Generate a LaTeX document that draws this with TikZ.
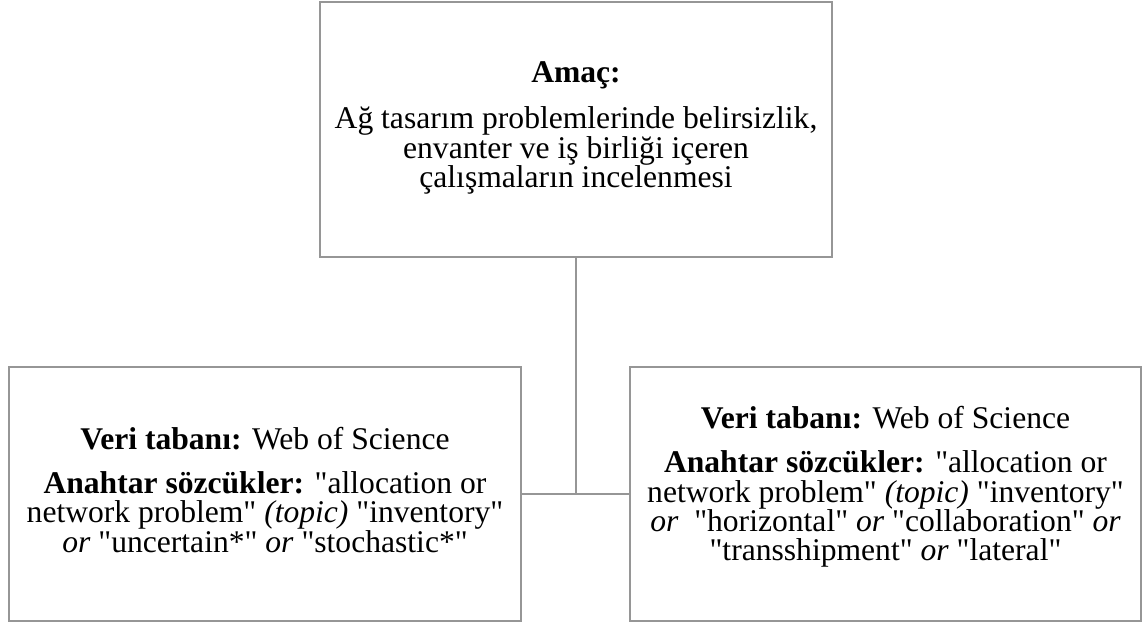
\documentclass[tikz,border=0pt]{standalone}
\usepackage{fontspec}
\setmainfont{Liberation Serif}[Ligatures=TeXOff]
\usetikzlibrary{positioning}

\definecolor{boxgray}{RGB}{150,150,150}

\tikzset{
  kutu/.style={draw=boxgray,line width=1pt,minimum width=256pt,minimum height=127pt,inner sep=0pt},
  yazi/.style={align=center,font=\fontsize{15.8}{14.6}\selectfont,inner sep=0pt},
  hat/.style={draw=boxgray,line width=1pt}
}

\begin{document}
\begin{tikzpicture}[x=0.5pt,y=-0.5pt]
  \useasboundingbox (0,0) rectangle (1144,623);
  % kutular
  \node[kutu,minimum height=127.5pt] (amac) at (576,129.5) {};
  \node[kutu] (sol) at (265,494) {};
  \node[kutu,minimum width=255.5pt] (sag) at (885.5,494) {};
  % baglantilar
  \draw[hat] (amac.south) -- (amac.south |- sol.east);
  \draw[hat] (sol.east) -- (sag.west);
  % metinler
  \node[yazi] (amacyazi) at (576,128)
    {\textbf{Amaç:}\\[8.4pt]
     Ağ tasarım problemlerinde belirsizlik,\\
     envanter ve iş birliği içeren\\
     çalışmaların incelenmesi};
  \node[yazi] (solyazi) at (265,490)
    {\textbf{Veri tabanı:} Web of Science\\[7.4pt]
     \textbf{Anahtar sözcükler:} "allocation or\\
     network problem" \textit{(topic)} "inventory"\\
     \textit{or} "uncertain*" \textit{or} "stochastic*"};
  \node[yazi] (sagyazi) at (885.5,487)
    {\textbf{Veri tabanı:} Web of Science\\[7.4pt]
     \textbf{Anahtar sözcükler:} "allocation or\\
     network problem" \textit{(topic)} "inventory"\\
     \textit{or}\ \ "horizontal" \textit{or} "collaboration" \textit{or}\\
     "transshipment" \textit{or} "lateral"};
\end{tikzpicture}
\end{document}
